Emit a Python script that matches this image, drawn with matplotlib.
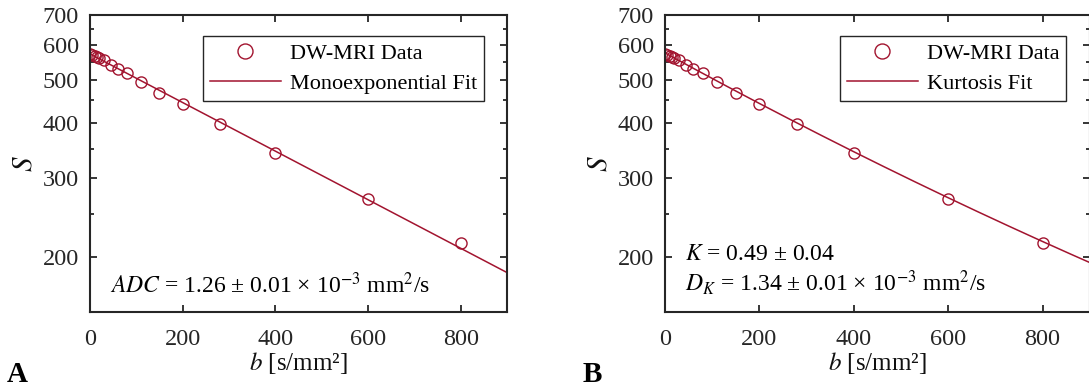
import numpy as np
import matplotlib
matplotlib.use("Agg")
import matplotlib.pyplot as plt
from matplotlib.ticker import FixedLocator, NullFormatter, FuncFormatter

plt.rcParams['font.family'] = ['Liberation Serif', 'DejaVu Serif']
plt.rcParams['mathtext.fontset'] = 'stix'

# diffusion weighting and measured signal
b_values = [0, 5, 10, 15, 20, 30, 45, 60, 80, 110, 150, 200, 280, 400, 600, 800]
signal = [573, 570, 566, 563, 560, 553, 541, 528, 518, 495, 468, 441, 397, 342, 270, 214]

# fit parameters (D in mm^2/s)
S0_mono = 572
ADC = 1.26e-3
S0_kurt = 575
D_K = 1.34e-3
K = 0.49

red = '#A2142F'
dark = '#262626'
b_fit = np.linspace(0, 900, 300)
mono_fit = S0_mono * np.exp(-b_fit * ADC)
kurt_fit = S0_kurt * np.exp(-b_fit * D_K + (b_fit * D_K) ** 2 * K / 6)

fig = plt.figure(figsize=(10.89, 3.87), dpi=100)
ax1 = fig.add_axes([0.0826, 0.1938, 0.383, 0.7674])
ax2 = fig.add_axes([0.6107, 0.1938, 0.390, 0.7674])


def style_axes(ax):
    ax.set_yscale('log')
    ax.set_xlim(0, 900)
    ax.set_ylim(150, 700)
    ax.set_xticks([0, 200, 400, 600, 800])
    ax.yaxis.set_major_locator(FixedLocator([200, 300, 400, 500, 600, 700]))
    ax.yaxis.set_minor_locator(FixedLocator([250, 350, 450, 550, 650]))
    ax.yaxis.set_major_formatter(FuncFormatter(lambda v, p: '%d' % v))
    ax.yaxis.set_minor_formatter(NullFormatter())
    ax.tick_params(which='both', direction='in', top=True, right=True,
                   labelsize=17.5, width=1.3, colors=dark)
    ax.tick_params(axis='x', pad=12)
    ax.tick_params(axis='y', pad=8)
    ax.tick_params(which='major', length=5)
    ax.tick_params(which='minor', length=3)
    for s in ax.spines.values():
        s.set_linewidth(1.5)
        s.set_color(dark)
    ax.set_xlabel(r'$b$ [s/mm²]', fontsize=18, labelpad=0, color='#111111')
    ax.set_ylabel(r'$S$', fontsize=21, labelpad=4, color='#111111')


for ax, fit, name in [(ax1, mono_fit, 'Monoexponential Fit'), (ax2, kurt_fit, 'Kurtosis Fit')]:
    style_axes(ax)
    ax.plot(b_values, signal, 'o', mfc='none', mec=red, ms=8, mew=1.0,
            label='DW-MRI Data')
    ax.plot(b_fit, fit, '-', color=red, lw=1.1, label=name)
    leg = ax.legend(loc='upper right', bbox_to_anchor=(0.944, 0.928), fontsize=16,
                    fancybox=False, edgecolor=dark, framealpha=1,
                    borderpad=0.3, handlelength=3.2, handletextpad=0.4,
                    labelspacing=0.45, borderaxespad=0, markerscale=1.35)
    leg.get_frame().set_linewidth(1.0)

ax1.text(0.048, 0.09, r'$ADC$ = 1.26 ± 0.01 × 10$^{-3}$ mm$^2$/s',
         transform=ax1.transAxes, fontsize=17, va='center')
ax2.text(0.047, 0.193, r'$K$ = 0.49 ± 0.04', transform=ax2.transAxes,
         fontsize=17, va='center')
ax2.text(0.047, 0.10, r'$D_K$ = 1.34 ± 0.01 × 10$^{-3}$ mm$^2$/s',
         transform=ax2.transAxes, fontsize=17, va='center')

fig.text(0.006, 0.012, 'A', fontsize=21, fontweight='bold')
fig.text(0.535, 0.012, 'B', fontsize=21, fontweight='bold')

fig.savefig('out.png', dpi=100)
